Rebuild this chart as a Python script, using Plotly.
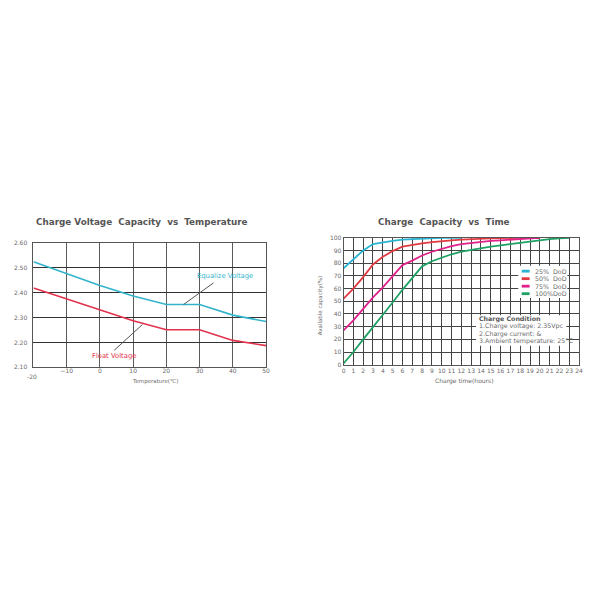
import plotly.graph_objects as go

# ---------------- Data ----------------
temp_c = [-20, -10, 0, 10, 20, 30, 40, 50]
equalize_v = [2.525, 2.476, 2.429, 2.387, 2.353, 2.353, 2.310, 2.284]
float_v = [2.419, 2.374, 2.329, 2.287, 2.251, 2.251, 2.208, 2.187]

hours_25 = list(range(0, 13))
cap_25 = [76, 83, 90, 95, 96.5, 97.5, 98.5, 99, 99.5, 99.7, 100, 100, 100]
hours_50 = list(range(0, 21))
cap_50 = [52, 60, 69, 79, 85, 89.5, 93, 94.5, 95.5, 96.5, 97.5, 98, 98.5, 99, 99.3,
          99.5, 99.7, 100, 100, 100, 100]
hours_75 = list(range(0, 21))
cap_75 = [27, 35, 44, 53, 61, 69.5, 78.5, 82, 86, 89, 91.5, 93.5, 95, 96, 97, 97.5,
          98, 98.5, 99, 99.5, 100]
hours_100 = list(range(0, 24))
cap_100 = [1, 10, 20, 29.5, 39, 49, 59, 68.5, 77.5, 81.5, 84.5, 87, 89, 90.5, 91.8,
           93, 94, 95, 96.3, 97.3, 98.3, 99, 99.5, 100]

series_names = ["25%  DoD", "50%  DoD", "75%  DoD", "100%DoD"]
series_colors = ["#2ab4d2", "#e03a42", "#e0228a", "#1fa064"]

left_yticks = [2.10, 2.20, 2.30, 2.40, 2.50, 2.60]
left_ytick_text = ["2.10", "2.20", "2.30", "2.40", "2.50", "2.60"]
left_xticks = [-10, 0, 10, 20, 30, 40, 50]

condition_lines = ["<b>Charge Condition</b>", "1.Charge voltage: 2.35Vpc",
                   "2.Charge current: &", "3.Ambient temperature: 25°C"]

FONT = "DejaVu Sans"
TXT = "#6a6a6a"

fig = go.Figure()

# Left chart curves
fig.add_trace(go.Scatter(x=temp_c, y=equalize_v, mode="lines", xaxis="x", yaxis="y",
                         line=dict(color="#33b4cc", width=1.6), showlegend=False))
fig.add_trace(go.Scatter(x=temp_c, y=float_v, mode="lines", xaxis="x", yaxis="y",
                         line=dict(color="#e2324c", width=1.6), showlegend=False))

# Right chart curves
for hx, cy, c in zip([hours_25, hours_50, hours_75, hours_100],
                     [cap_25, cap_50, cap_75, cap_100], series_colors):
    fig.add_trace(go.Scatter(x=hx, y=cy, mode="lines", xaxis="x2", yaxis="y2",
                             line=dict(color=c, width=1.8), showlegend=False))

# page body has an 8px margin: figure is 584 px and positions are shifted by 8
OFF = 8.0
W = H = 584.0
def px(x):
    return (x - OFF) / W
def py(y):
    return 1 - (y - OFF) / H

axis_common = dict(showline=True, linecolor="#555", linewidth=1, mirror=True,
                   zeroline=False, ticks="", tickfont=dict(family=FONT, size=6, color=TXT),
                   showgrid=True, fixedrange=True, tickangle=0)

fig.update_layout(
    width=584, height=584,
    margin=dict(l=0, r=0, t=0, b=0),
    paper_bgcolor="white", plot_bgcolor="white",
    xaxis=dict(domain=[px(31.7), px(266.7)], range=[-20, 50], tickvals=left_xticks,
               gridcolor="#5a5a5a", gridwidth=1, anchor="y", ticklabelstandoff=-2,
               **axis_common),
    yaxis=dict(domain=[py(367.5), py(242)], range=[2.10, 2.60], tickvals=left_yticks,
               ticktext=left_ytick_text, gridcolor="#333", gridwidth=1, anchor="x",
               ticklabelstandoff=4, **axis_common),
    xaxis2=dict(domain=[px(345), px(583)], range=[0, 24], dtick=1, tick0=0,
                gridcolor="#444", gridwidth=1, anchor="y2", **axis_common),
    yaxis2=dict(domain=[py(365), py(236.5)], range=[0, 100], dtick=10, tick0=0,
                gridcolor="#444", gridwidth=1, anchor="x2", **axis_common),
)

annotations = []
shapes = []

def note(text, x, y, size, color=TXT, xref="paper", yref="paper", xanchor="center", **kw):
    annotations.append(dict(text=text, x=x, y=y, xref=xref, yref=yref, showarrow=False,
                            xanchor=xanchor, yanchor="middle",
                            font=dict(family=FONT, size=size, color=color), **kw))

# Titles
note("<b>Charge Voltage  Capacity  vs  Temperature</b>", px(141), py(220.7), 8.8, "#555")
note("<b>Charge  Capacity  vs  Time</b>", px(447), py(220.7), 8.8, "#555")

# Axis titles
note("Temperature(℃)", px(155), py(382), 5.5)
note("-20", px(30), py(377), 6)
note("Charge time(hours)", px(467), py(381.5), 6)
note("Available capacity(%)", px(322), py(305), 5.5, textangle=-90)

# Left chart labels + pointers
note("Equalize Voltage", 37.7, 2.467, 6.8, "#33b4cc", xref="x", yref="y")
note("Float Voltage", 4.3, 2.147, 6.8, "#e2324c", xref="x", yref="y")
shapes.append(dict(type="line", xref="x", yref="y", x0=25.2, y0=2.353, x1=34.2, y1=2.44,
                   line=dict(color="#555", width=1)))
shapes.append(dict(type="line", xref="x", yref="y", x0=4.3, y0=2.168, x1=12.8, y1=2.272,
                   line=dict(color="#555", width=1)))

# Right chart legend (white box over grid)
shapes.append(dict(type="rect", xref="x2", yref="y2", x0=17.8, x1=22.8, y0=52.5, y1=78,
                   fillcolor="white", line=dict(width=0), layer="between"))
for i, (name, c) in enumerate(zip(series_names, series_colors)):
    yy = 270.3 + i * 7.6
    shapes.append(dict(type="line", xref="paper", yref="paper", x0=px(525), x1=px(533),
                       y0=py(yy), y1=py(yy), line=dict(color=c, width=2.8)))
    note(name, px(536), py(yy), 6.3, xanchor="left")

# Charge condition box
shapes.append(dict(type="rect", xref="x2", yref="y2", x0=13.5, x1=22.7, y0=15, y1=39,
                   fillcolor="white", line=dict(width=0), layer="between"))
for i, line in enumerate(condition_lines):
    yy = 318.7 + i * 7.5
    note(line, px(480), py(yy), 6.3, "#555" if i == 0 else TXT, xanchor="left")

fig.update_layout(annotations=annotations, shapes=shapes)

fig.write_html("out.html")
